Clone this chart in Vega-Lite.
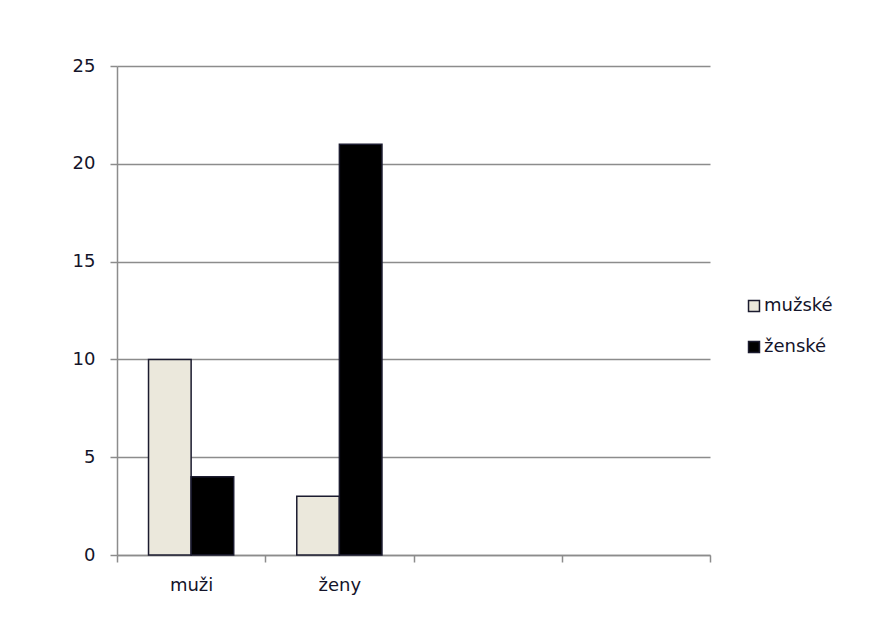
{
  "$schema": "https://vega.github.io/schema/vega-lite/v6.json",
  "width": 593,
  "height": 489,
  "autosize": {"type": "none"},
  "padding": {"left": 117, "top": 66, "right": 175, "bottom": 82},
  "background": "white",
  "data": {
    "values": [
      {"kat": "muži", "serie": "mužské", "hodnota": 10},
      {"kat": "muži", "serie": "ženské", "hodnota": 4},
      {"kat": "ženy", "serie": "mužské", "hodnota": 3},
      {"kat": "ženy", "serie": "ženské", "hodnota": 21}
    ]
  },
  "mark": {"type": "bar", "stroke": "#1b1b2f", "strokeWidth": 1.5},
  "encoding": {
    "x": {
      "field": "kat",
      "type": "nominal",
      "scale": {"domain": ["muži", "ženy", "c3", "c4"], "paddingInner": 0, "paddingOuter": 0},
      "axis": {
        "title": null,
        "labelAngle": 0,
        "labelExpr": "datum.value == 'c3' || datum.value == 'c4' ? '' : datum.value",
        "tickBand": "extent",
        "tickSize": 7,
        "tickWidth": 1.5,
        "tickColor": "#8c8c8c",
        "domainColor": "#8c8c8c",
        "domainWidth": 1.5,
        "labelPadding": 14,
        "labelFontSize": 18,
        "labelFont": "DejaVu Sans",
        "labelColor": "#14142a",
        "grid": false
      }
    },
    "xOffset": {
      "field": "serie",
      "type": "nominal",
      "scale": {"domain": ["mužské", "ženské"], "paddingInner": 0, "paddingOuter": 0.74}
    },
    "y": {
      "field": "hodnota",
      "type": "quantitative",
      "scale": {"domain": [0, 25], "nice": false},
      "axis": {
        "title": null,
        "values": [0, 5, 10, 15, 20, 25],
        "grid": true,
        "gridColor": "#8c8c8c",
        "gridWidth": 1.5,
        "tickSize": 7,
        "tickWidth": 1.5,
        "tickColor": "#8c8c8c",
        "domainColor": "#8c8c8c",
        "domainWidth": 1.5,
        "labelPadding": 15,
        "labelFontSize": 18,
        "labelFont": "DejaVu Sans",
        "labelColor": "#14142a"
      }
    },
    "fill": {
      "field": "serie",
      "type": "nominal",
      "scale": {"domain": ["mužské", "ženské"], "range": ["#ebe8dc", "#000000"]},
      "legend": {
        "title": null,
        "orient": "none",
        "legendX": 628,
        "legendY": 231,
        "symbolType": "square",
        "symbolSize": 120,
        "symbolStrokeColor": "#1b1b2f",
        "symbolStrokeWidth": 1.5,
        "labelFontSize": 18,
        "labelFont": "DejaVu Sans",
        "labelColor": "#14142a",
        "labelOffset": 1,
        "rowPadding": 23
      }
    }
  },
  "config": {"view": {"stroke": null}}
}
